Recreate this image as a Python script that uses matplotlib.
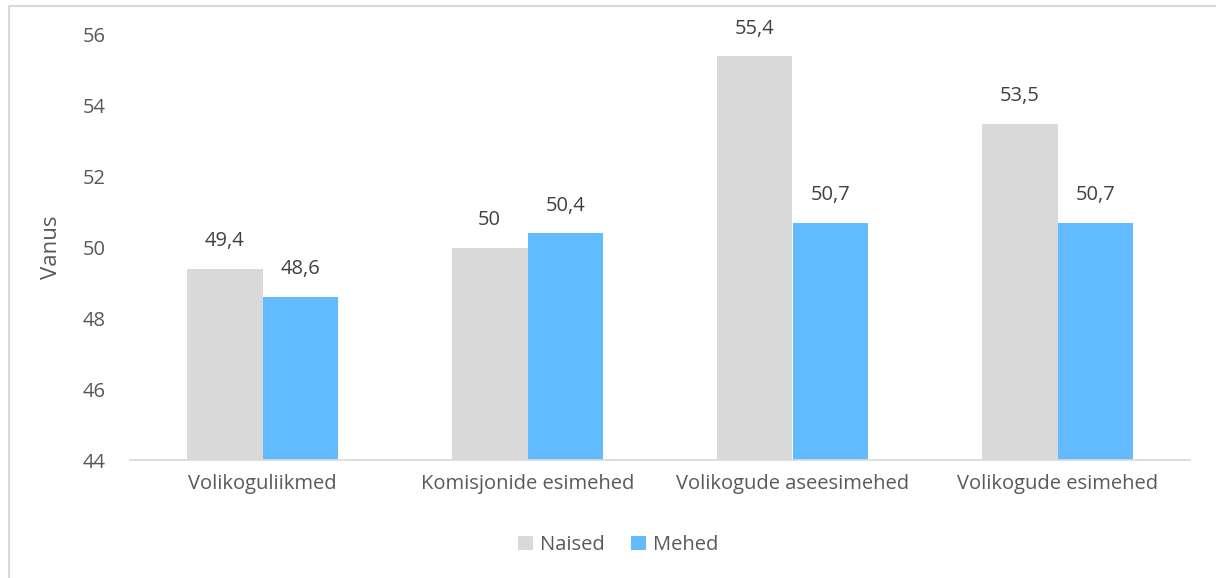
import matplotlib.pyplot as plt
import numpy as np

categories = ["Volikoguliikmed", "Komisjonide esimehed", "Volikogude aseesimehed", "Volikogude esimehed"]
naised = [49.4, 50.0, 55.4, 53.5]
mehed = [48.6, 50.4, 50.7, 50.7]
naised_labels = ["49,4", "50", "55,4", "53,5"]
mehed_labels = ["48,6", "50,4", "50,7", "50,7"]
y_ticks = [44, 46, 48, 50, 52, 54, 56]

plt.rcParams['font.family'] = ['Open Sans', 'DejaVu Sans']
FS = 14.5

fig = plt.figure(figsize=(12.16, 5.78), dpi=100)
ax = fig.add_axes([130 / 1216, 118 / 578, 1060 / 1216, 425 / 578])

x = np.arange(len(categories))
w = 0.285
ax.bar(x - w / 2, [v - 44 for v in naised], w, bottom=44, color='#D9D9D9', label='Naised')
ax.bar(x + w / 2, [v - 44 for v in mehed], w, bottom=44, color='#63BBFF', label='Mehed')

for xi, v, t in zip(x - w / 2, naised, naised_labels):
    ax.text(xi, v + 0.5, t, ha='center', va='bottom', fontsize=FS, color='#404040')
for xi, v, t in zip(x + w / 2, mehed, mehed_labels):
    ax.text(xi, v + 0.5, t, ha='center', va='bottom', fontsize=FS, color='#404040')

ax.set_xlim(-0.5, 3.5)
ax.set_ylim(44, 56)
ax.set_yticks(y_ticks)
ax.set_yticklabels([str(t) for t in y_ticks])
ax.set_xticks(x)
ax.set_xticklabels(categories)
ax.tick_params(axis='both', length=0, labelsize=FS, labelcolor='#595959')
ax.tick_params(axis='y', pad=34)
ax.tick_params(axis='x', pad=10)
for t in ax.get_yticklabels():
    t.set_ha('left')
ax.set_ylabel('Vanus', fontsize=16, color='#595959')
ax.yaxis.set_label_coords(-0.064, 0.5)

for s in ['top', 'right', 'left']:
    ax.spines[s].set_visible(False)
ax.spines['bottom'].set_color('#D9D9D9')
ax.spines['bottom'].set_linewidth(1.2)

leg = fig.legend(loc='center', bbox_to_anchor=(618 / 1216, 1 - 545 / 578), ncol=2, frameon=False,
                 fontsize=FS, handlelength=0.75, handleheight=0.75, handletextpad=0.35, columnspacing=1.3)
for t in leg.get_texts():
    t.set_color('#595959')

# outer border (left and top visible)
fig.add_artist(plt.Line2D([9 / 1216, 9 / 1216], [0, 1 - 6 / 578], transform=fig.transFigure, color='#D9D9D9', lw=1.5))
fig.add_artist(plt.Line2D([9 / 1216, 1], [1 - 6 / 578, 1 - 6 / 578], transform=fig.transFigure, color='#D9D9D9', lw=1.5))

fig.savefig('out.png', dpi=100)
